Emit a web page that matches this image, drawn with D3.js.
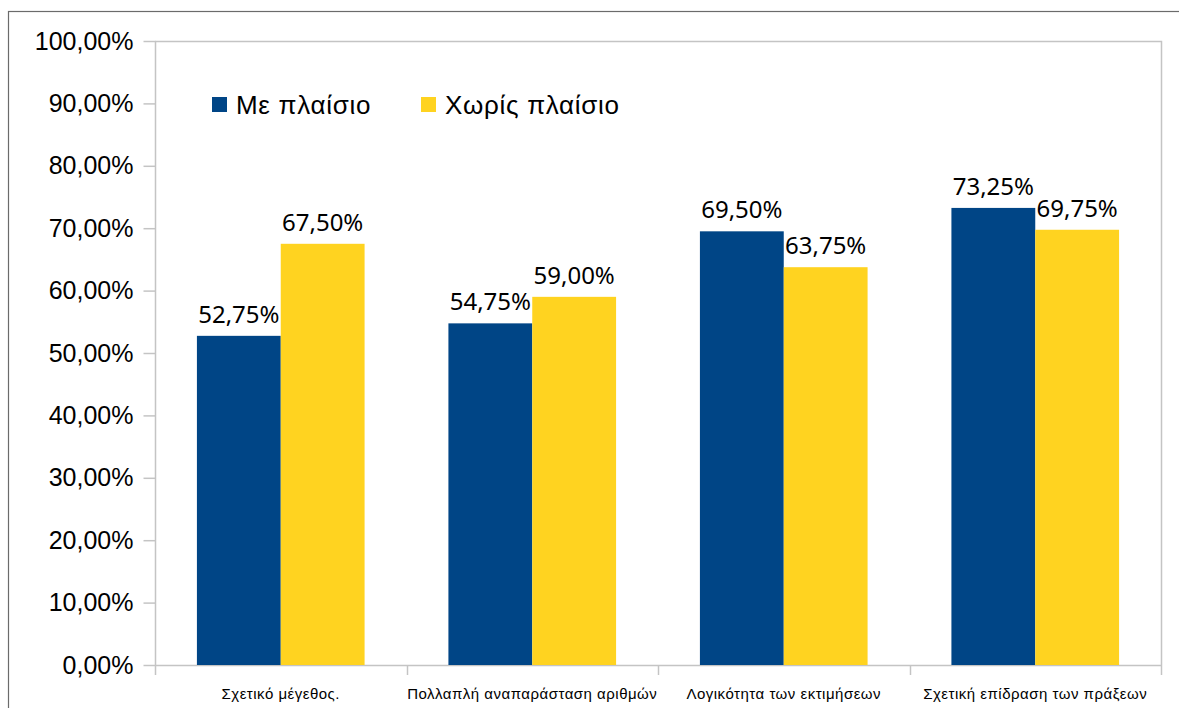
<!DOCTYPE html>
<html>
<head>
<meta charset="utf-8">
<script src="https://cdn.jsdelivr.net/npm/d3@7"></script>
<style>
  html, body { margin: 0; padding: 0; background: #fff; }
  svg { display: block; }
</style>
</head>
<body>
<svg id="chart" width="1179" height="708"></svg>
<script>
// Categories and series values (percent)
const categories = [
  "Σχετικό μέγεθος.",
  "Πολλαπλή αναπαράσταση αριθμών",
  "Λογικότητα των εκτιμήσεων",
  "Σχετική επίδραση των πράξεων"
];
const seriesNames = ["Με πλαίσιο", "Χωρίς πλαίσιο"];
const withFrame = [52.75, 54.75, 69.50, 73.25];
const withoutFrame = [67.50, 59.00, 63.75, 69.75];
const yTicks = [0, 10, 20, 30, 40, 50, 60, 70, 80, 90, 100];
const colors = ["#004586", "#ffd320"];

const fmt = v => d3.format(".2f")(v).replace(".", ",") + "%";

const svg = d3.select("#chart");
const plot = { left: 155, top: 41, right: 1161, bottom: 665 };
const axisGray = "#c4c4c4";

// Outer chart border
svg.append("rect")
  .attr("x", 8.5).attr("y", 11.5)
  .attr("width", 1200).attr("height", 720)
  .attr("fill", "none").attr("stroke", "#6b6b6b").attr("stroke-width", 1.2);

const x0 = d3.scaleBand().domain(categories).range([plot.left, plot.right]).padding(0);
const x1 = d3.scaleBand().domain(seriesNames).range([0, x0.bandwidth()]).paddingInner(0).paddingOuter(0.5);
const y = d3.scaleLinear().domain([0, 100]).range([plot.bottom, plot.top]);

// Plot frame (top and right edges)
svg.append("path")
  .attr("d", `M${plot.left},${plot.top + 0.5}H${plot.right + 0.5}V${plot.bottom}`)
  .attr("fill", "none").attr("stroke", axisGray).attr("stroke-width", 1.5);

// Y axis
const yAxis = d3.axisLeft(y).tickValues(yTicks).tickSize(12).tickPadding(10)
  .tickFormat(d => d3.format(".2f")(d).replace(".", ",") + "%");
const gy = svg.append("g").attr("transform", `translate(${plot.left + 0.5},0)`).call(yAxis);
gy.select(".domain").remove();
gy.selectAll(".tick line").attr("stroke", axisGray).attr("stroke-width", 1.5);
gy.selectAll(".tick text")
  .attr("font-family", "'Liberation Sans', Arial, sans-serif")
  .attr("font-size", 25).attr("fill", "#000");
svg.append("line")
  .attr("x1", plot.left + 0.5).attr("x2", plot.left + 0.5)
  .attr("y1", plot.top).attr("y2", plot.bottom + 10)
  .attr("stroke", axisGray).attr("stroke-width", 1.5);

// X axis with ticks at category boundaries
svg.append("line")
  .attr("x1", plot.left).attr("x2", plot.right + 0.5)
  .attr("y1", plot.bottom + 0.5).attr("y2", plot.bottom + 0.5)
  .attr("stroke", axisGray).attr("stroke-width", 1.5);
const boundaries = categories.map(c => x0(c)).concat([plot.right]);
svg.selectAll(".xtick").data(boundaries.slice(1)).enter().append("line")
  .attr("x1", d => Math.round(d) + 0.5).attr("x2", d => Math.round(d) + 0.5)
  .attr("y1", plot.bottom).attr("y2", plot.bottom + 10)
  .attr("stroke", axisGray).attr("stroke-width", 1.5);
svg.selectAll(".xlabel").data(categories).enter().append("text")
  .attr("x", d => x0(d) + x0.bandwidth() / 2)
  .attr("y", 699)
  .attr("text-anchor", "middle")
  .attr("font-family", "'Liberation Sans', Arial, sans-serif")
  .attr("font-size", 15).attr("letter-spacing", 0.5).attr("fill", "#000")
  .text(d => d);

// Bars
const rows = categories.map((c, i) => ({ cat: c, vals: [withFrame[i], withoutFrame[i]] }));
const groups = svg.selectAll(".grp").data(rows).enter().append("g")
  .attr("transform", d => `translate(${x0(d.cat)},0)`);
groups.selectAll("rect").data(d => d.vals.map((v, j) => ({ s: seriesNames[j], v, j })))
  .enter().append("rect")
  .attr("x", d => x1(d.s))
  .attr("width", x1.bandwidth())
  .attr("y", d => y(d.v))
  .attr("height", d => y(0) - y(d.v))
  .attr("fill", d => colors[d.j]);
groups.selectAll("text").data(d => d.vals.map((v, j) => ({ s: seriesNames[j], v, j })))
  .enter().append("text")
  .attr("x", d => x1(d.s) + x1.bandwidth() / 2)
  .attr("y", d => y(d.v) - 13)
  .attr("text-anchor", "middle")
  .attr("font-family", "'Noto Sans', sans-serif")
  .attr("font-size", 24).attr("fill", "#000")
  .text(d => fmt(d.v));

// Legend
const legendX = [212, 421];
const legend = svg.selectAll(".leg").data(seriesNames).enter().append("g")
  .attr("transform", (d, i) => `translate(${legendX[i]},97)`);
legend.append("rect").attr("width", 15).attr("height", 15).attr("fill", (d, i) => colors[i]);
legend.append("text")
  .attr("x", 24).attr("y", 16.5)
  .attr("font-family", "'Liberation Sans', Arial, sans-serif")
  .attr("font-size", 26).attr("letter-spacing", 0.7).attr("fill", "#000")
  .text(d => d);
</script>
</body>
</html>
